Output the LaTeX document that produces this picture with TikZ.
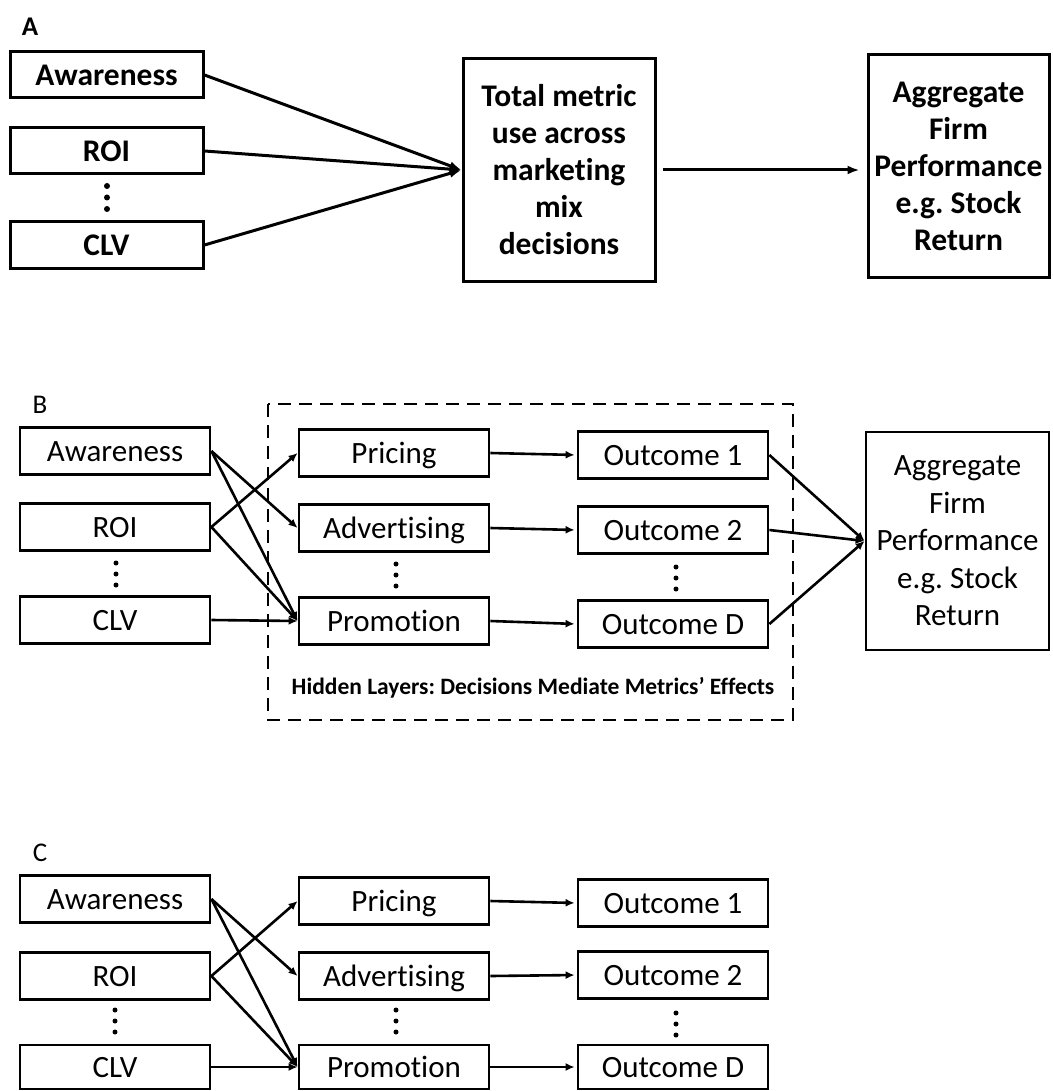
\documentclass[tikz,border=0pt]{standalone}
\usepackage{fontspec}
\setmainfont{Carlito}[Ligatures=NoCommon]
\usetikzlibrary{arrows.meta}
\frenchspacing
\tikzset{
  boxA/.style={draw, line width=3pt, inner sep=0pt, align=center,
    text height=20.3pt, text depth=0pt,
    font=\fontsize{31.5}{37}\selectfont\bfseries},
  boxB/.style={draw, line width=2.8pt, inner sep=0pt, align=center,
    text height=20pt, text depth=0pt,
    font=\fontsize{31}{37.5}\selectfont},
  multi/.style={text height=, text depth=},
  mbox/.style={boxB, minimum width=190pt},
  arrA/.style={line width=3pt, -{Latex[length=12pt,width=9pt]}},
  arrB/.style={line width=2.6pt, -{Latex[length=9pt,width=8pt]}},
  dashbox/.style={line width=2.5pt, dash pattern=on 13pt off 8pt},
  panellabel/.style={inner sep=0pt, font=\fontsize{27}{30}\selectfont},
}
\begin{document}
\begin{tikzpicture}[x=1pt,y=-1pt]
\useasboundingbox (0,0) rectangle (1052,1091);

% ---------------- Panel A ----------------
\node[panellabel, font=\fontsize{27}{30}\selectfont\bfseries] (labA) at (30,27) {A};
\node[boxA, minimum width=193pt, minimum height=46pt] (aAw) at (106.5,75) {Awareness};
\node[boxA, minimum width=193pt, minimum height=46pt] (aROI) at (106.5,151) {ROI};
\node[boxA, minimum width=193pt, minimum height=46pt] (aCLV) at (106.5,245) {CLV};
\foreach \yy in {186,197.5,209} \fill (107,\yy) circle (3pt);
\node[boxA, multi, minimum width=192pt, minimum height=222pt] (total) at (559,170)
  {Total metric\\use across\\marketing\\mix\\decisions};
\node[boxA, multi, minimum width=181pt, minimum height=222pt] (agg) at (958.5,166)
  {Aggregate\\Firm\\Performance\\e.g. Stock\\Return};
\draw[arrA] (aAw.east) -- (total.west);
\draw[arrA] (aROI.east) -- (total.west);
\draw[arrA] (aCLV.east) -- (total.west);
\draw[arrA, shorten <=6pt, shorten >=7pt] (total.east) -- (total.east -| agg.west);

% ---------------- Panel B ----------------
\node[panellabel] (labB) at (40,405) {B};
\draw[dashbox] (268,404) rectangle (793,720);
\node[mbox, minimum height=47pt] (bAw) at (115,451) {Awareness};
\node[mbox, minimum height=47pt] (bROI) at (115,527) {ROI};
\node[mbox, minimum height=47pt] (bCLV) at (115,620) {CLV};
\node[mbox, minimum height=47pt] (bPri) at (394,453) {Pricing};
\node[mbox, minimum height=47pt] (bAdv) at (394,528) {Advertising};
\node[mbox, minimum height=47pt] (bPro) at (394,621) {Promotion};
\node[mbox, minimum height=47pt] (bO1) at (673,455) {Outcome 1};
\node[mbox, minimum height=47pt] (bO2) at (673,530) {Outcome 2};
\node[mbox, minimum height=47pt] (bOD) at (673,624) {Outcome D};
\node[boxB, multi, minimum width=183pt, minimum height=218pt] (bAgg) at (957.5,541)
  {Aggregate\\Firm\\Performance\\e.g. Stock\\Return};
\node[inner sep=0pt, font=\fontsize{23.5}{28}\selectfont\bfseries] (hidden) at (533,688)
  {Hidden Layers: Decisions Mediate Metrics’ Effects};
\foreach \yy in {563,574,585} \fill (116,\yy) circle (2.5pt);
\foreach \yy in {564,575,586} \fill (396,\yy) circle (2.5pt);
\foreach \yy in {567,578,589} \fill (676,\yy) circle (2.5pt);
\draw[arrB] (bAw.east) -- (bAdv.west);
\draw[arrB] (bAw.east) -- (bPro.west);
\draw[arrB] (bROI.east) -- (bPri.west);
\draw[arrB] (bROI.east) -- (bPro.west);
\draw[arrB] (bCLV.east) -- (bPro.west);
\draw[arrB, shorten >=2pt] (bPri.east) -- (bO1.west);
\draw[arrB, shorten >=2pt] (bAdv.east) -- (bO2.west);
\draw[arrB, shorten >=2pt] (bPro.east) -- (bOD.west);
\draw[arrB] (bO1.east) -- (bAgg.west);
\draw[arrB] (bO2.east) -- (bAgg.west);
\draw[arrB] (bOD.east) -- (bAgg.west);

% ---------------- Panel C ----------------
\node[panellabel] (labC) at (40,853) {C};
\node[mbox, minimum height=47pt] (cAw) at (115,899) {Awareness};
\node[mbox, minimum height=47pt] (cROI) at (115,976) {ROI};
\node[mbox, minimum height=44pt] (cCLV) at (115,1067) {CLV};
\node[mbox, minimum height=47pt] (cPri) at (394,901) {Pricing};
\node[mbox, minimum height=47pt] (cAdv) at (394,976) {Advertising};
\node[mbox, minimum height=44pt] (cPro) at (394,1067) {Promotion};
\node[mbox, minimum height=47pt] (cO1) at (673,903) {Outcome 1};
\node[mbox, minimum height=47pt] (cO2) at (673,975) {Outcome 2};
\node[mbox, minimum height=44pt] (cOD) at (673,1067) {Outcome D};
\foreach \yy in {1010,1021,1032} \fill (115,\yy) circle (2.5pt);
\foreach \yy in {1010,1021,1032} \fill (396,\yy) circle (2.5pt);
\foreach \yy in {1013,1024,1035} \fill (676,\yy) circle (2.5pt);
\draw[arrB] (cAw.east) -- (cAdv.west);
\draw[arrB] (cAw.east) -- (cPro.west);
\draw[arrB] (cROI.east) -- (cPri.west);
\draw[arrB] (cROI.east) -- (cPro.west);
\draw[arrB] (cCLV.east) -- (cPro.west);
\draw[arrB, shorten >=2pt] (cPri.east) -- (cO1.west);
\draw[arrB, shorten >=2pt] (cAdv.east) -- (cO2.west);
\draw[arrB, shorten >=2pt] (cPro.east) -- (cOD.west);
\end{tikzpicture}
\end{document}
